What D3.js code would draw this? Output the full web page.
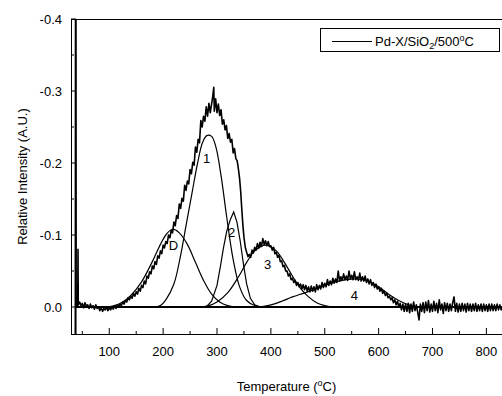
<!DOCTYPE html>
<html><head><meta charset="utf-8">
<script src="https://cdn.jsdelivr.net/npm/d3@7"></script>
<style>body{margin:0;background:#fff}svg{display:block}text{font-family:"Liberation Sans",Arial,sans-serif;fill:#000}</style>
</head><body><svg id="c" width="502" height="396"></svg>
<script>
// TPD readings: [temperature °C, relative intensity]
const tpdData = [[37,0.08],[37.4,-0.45],[37.8,0.08],[38.2,-0.45],[38.6,0.0],[40,-0.004],[41.5,-0.002],[42,-0.080],[42.5,-0.003],
[45,-0.007],[47.5,-0.002],[50,-0.005],[52.5,0.001],[55,-0.006],[57.5,-0.001],[60,-0.003],[62.5,0.002],[65,-0.004],[67.5,0.001],[70,-0.002],[72.5,0.003],[75,-0.003],[77.5,0.002],[80,0.000],[82.5,0.005],[85,0.001],[87.5,0.006],[90,0.002],[92.5,0.004],[95,0.000],[97.5,0.005],[100,0.001],[102.5,0.004],[105,0.000],[107.5,0.003],[110,-0.002],[112.5,0.002],[115,-0.003],[117.5,0.000],[120,-0.004],[122.5,-0.002],[125,-0.007],[127.5,-0.004],[130,-0.009],[132.5,-0.007],[135,-0.013],[137.5,-0.010],[140,-0.015],[142.5,-0.012],[145,-0.019],[147.5,-0.015],[150,-0.021],[152.5,-0.018],[155,-0.026],[157.5,-0.022],[160,-0.030],[162.5,-0.027],[165,-0.036],[167.5,-0.032],[170,-0.043],[172.5,-0.040],[175,-0.049],[177.5,-0.046],[180,-0.057],[182.5,-0.053],[185,-0.063],[187.5,-0.059],[190,-0.071],[192.5,-0.068],[195,-0.078],[197.5,-0.074],[200,-0.086],[202.5,-0.082],[205,-0.091],[207.5,-0.088],[210,-0.100],[212.5,-0.096],[215,-0.106],[217.5,-0.103],[220,-0.118],[222.5,-0.113],[225,-0.127],[227.5,-0.123],[230,-0.143],[232.5,-0.137],[235,-0.151],[237.5,-0.147],[240,-0.169],[242.5,-0.162],[245,-0.175],[247.5,-0.171],[250,-0.191],[252.5,-0.185],[255,-0.201],[257.5,-0.197],[260,-0.222],[262.5,-0.215],[265,-0.233],[267.5,-0.228],[270,-0.259],[272.5,-0.250],[275,-0.265],[277.5,-0.258],[280,-0.278],[282.5,-0.265],[285,-0.283],[287.5,-0.270],[290,-0.282],[292,-0.292],[294,-0.305],[295,-0.272],[297.5,-0.289],[300,-0.270],[302.5,-0.282],[305,-0.266],[307.5,-0.274],[310,-0.254],[312.5,-0.260],[315,-0.246],[317.5,-0.252],[320,-0.234],[322.5,-0.241],[325,-0.229],[327.5,-0.233],[330,-0.214],[332.5,-0.220],[335,-0.206],[337.5,-0.203],[340,-0.190],[342,-0.178],[344,-0.160],[346,-0.136],[348,-0.114],[350,-0.097],[352.5,-0.083],[355,-0.076],[357.5,-0.070],[360,-0.073],[362.5,-0.069],[365,-0.079],[367.5,-0.075],[370,-0.083],[372.5,-0.079],[375,-0.088],[377.5,-0.082],[380,-0.090],[382.5,-0.084],[385,-0.095],[387.5,-0.087],[390,-0.092],[392.5,-0.085],[395,-0.091],[397.5,-0.084],[400,-0.085],[402.5,-0.079],[405,-0.083],[407.5,-0.074],[410,-0.076],[412.5,-0.069],[415,-0.072],[417.5,-0.063],[420,-0.064],[422.5,-0.056],[425,-0.058],[427.5,-0.050],[430,-0.050],[432.5,-0.043],[435,-0.046],[437.5,-0.038],[440,-0.040],[442.5,-0.034],[445,-0.037],[447.5,-0.030],[450,-0.034],[452.5,-0.028],[455,-0.032],[457.5,-0.025],[460,-0.031],[462.5,-0.024],[465,-0.030],[467.5,-0.022],[470,-0.028],[472.5,-0.021],[475,-0.029],[477.5,-0.022],[480,-0.028],[482.5,-0.021],[485,-0.031],[487.5,-0.024],[490,-0.030],[492.5,-0.025],[495,-0.034],[497.5,-0.027],[500,-0.033],[502.5,-0.028],[505,-0.038],[507.5,-0.030],[510,-0.036],[512.5,-0.031],[515,-0.040],[517.5,-0.033],[520,-0.039],[522.5,-0.034],[525,-0.050],[527.5,-0.036],[530,-0.042],[532.5,-0.037],[535,-0.046],[537.5,-0.038],[540,-0.043],[542.5,-0.037],[545,-0.050],[547.5,-0.039],[550,-0.044],[552.5,-0.038],[555,-0.049],[557.5,-0.038],[560,-0.042],[562.5,-0.037],[565,-0.047],[567.5,-0.036],[570,-0.042],[572.5,-0.036],[575,-0.043],[577.5,-0.034],[580,-0.039],[582.5,-0.032],[585,-0.038],[587.5,-0.030],[590,-0.034],[592.5,-0.027],[595,-0.032],[597.5,-0.025],[600,-0.028],[602.5,-0.022],[605,-0.026],[607.5,-0.019],[610,-0.022],[612.5,-0.016],[615,-0.019],[617.5,-0.013],[620,-0.015],[622.5,-0.010],[625,-0.013],[627.5,-0.006],[630,-0.010],[632.5,-0.003],[635,-0.008],[637.5,0.000],[640,-0.005],[642.5,0.004],[645,-0.004],[647.5,0.006],[650,-0.004],[652.5,0.006],[655,-0.005],[657.5,0.008],[660,-0.004],[662.5,0.006],[665,-0.007],[667.5,0.005],[670,-0.003],[672.5,0.007],[675,0.018],[677.5,-0.004],[680,0.006],[682.5,-0.006],[685,0.008],[687.5,-0.007],[690,0.005],[692.5,-0.009],[695,0.007],[697.5,-0.004],[700,0.006],[702.5,-0.008],[705,0.005],[707.5,-0.005],[710,0.008],[712.5,-0.010],[715,0.004],[717.5,-0.004],[720,0.009],[722.5,-0.006],[725,0.005],[727.5,-0.005],[730,0.006],[732.5,-0.004],[735,0.005],[737.5,-0.006],[740,-0.014],[742.5,0.006],[745,-0.005],[747.5,0.007],[750,-0.004],[752.5,0.006],[755,-0.005],[757.5,0.005],[760,-0.004],[762.5,0.007],[765,-0.005],[767.5,0.005],[770,-0.004],[772.5,0.006],[775,-0.004],[777.5,0.005],[780,-0.005],[782.5,0.006],[785,-0.003],[787.5,0.005],[790,-0.004],[792.5,0.006],[795,-0.004],[797.5,0.005],[800,-0.003],[802.5,0.006],[805,-0.004],[807.5,0.005],[810,-0.004],[812.5,0.005],[815,-0.003],[817.5,0.005],[820,-0.004],[822.5,0.004],[825,-0.003],[827.5,0.004],[830,0.000]];

const peakD = [[95,0],[110,-0.002],[125,-0.007],[140,-0.016],[160,-0.035],[180,-0.063],[195,-0.087],[205,-0.100],[217,-0.108],[230,-0.103],[245,-0.087],[260,-0.062],[275,-0.037],[290,-0.018],[305,-0.007],[320,-0.002],[335,0]];
const peak1 = [[185,0],[195,-0.002],[205,-0.010],[220,-0.032],[232,-0.070],[243,-0.115],[254,-0.160],[264,-0.200],[273,-0.228],[281,-0.238],[290,-0.237],[298,-0.222],[308,-0.180],[318,-0.125],[330,-0.066],[342,-0.028],[355,-0.009],[370,-0.002],[385,0]];
const peak2 = [[280,0],[290,-0.008],[300,-0.030],[306,-0.055],[312,-0.082],[318,-0.105],[325,-0.122],[331,-0.132],[337,-0.118],[343,-0.092],[349,-0.060],[355,-0.032],[362,-0.012],[370,-0.003],[380,0]];
const peak3 = [[270,0],[285,-0.002],[300,-0.007],[320,-0.020],[340,-0.042],[355,-0.062],[370,-0.078],[390,-0.086],[410,-0.078],[425,-0.062],[440,-0.043],[455,-0.026],[470,-0.014],[485,-0.006],[500,-0.002],[515,0]];
const peak4 = [[380,0],[400,-0.003],[420,-0.008],[440,-0.014],[460,-0.019],[480,-0.024],[500,-0.030],[520,-0.035],[540,-0.038],[560,-0.039],[580,-0.036],[600,-0.028],[620,-0.017],[640,-0.008],[660,-0.002],[680,0]];
const baseline = [[37,0],[830,0]];
const peakLabels = [["D",219,-0.085],["1",280.5,-0.207],["2",327,-0.103],["3",394,-0.059],["4",555,-0.016]];
const xMajor = [100,200,300,400,500,600,700,800];
const xMinor = [50,150,250,350,450,550,650,750];
const yMajor = [0,-0.1,-0.2,-0.3,-0.4];
const yMinor = [-0.05,-0.15,-0.25,-0.35];

const svg = d3.select("#c");
const L=71,R=502,T=19,B=334;
const x = d3.scaleLinear().domain([29,829]).range([L,R]);
const y = d3.scaleLinear().domain([0.0375,-0.4]).range([B,T]);

svg.append("rect").attr("width",502).attr("height",396).attr("fill","#fff");
svg.append("defs").append("clipPath").attr("id","clip").append("rect")
  .attr("x",L).attr("y",T).attr("width",R-L).attr("height",B-T);

const g = svg.append("g").attr("clip-path","url(#clip)");
const lineP = d3.line().x(d=>x(d[0])).y(d=>y(d[1])).curve(d3.curveCatmullRom);
const lineL = d3.line().x(d=>x(d[0])).y(d=>y(d[1]));

g.append("path").attr("d",lineL(baseline)).attr("stroke","#000").attr("stroke-width",2).attr("fill","none");
[peakD,peak1,peak3,peak4].forEach(p=>{
  g.append("path").attr("d",lineP(p)).attr("stroke","#000").attr("stroke-width",1.2).attr("fill","none");
});
g.append("path").attr("d",lineL(peak2)).attr("stroke","#000").attr("stroke-width",1.2).attr("fill","none");

g.append("path").attr("d",lineL(tpdData)).attr("stroke","#000").attr("stroke-width",1.6)
  .attr("stroke-linejoin","round").attr("fill","none");

svg.append("line").attr("x1",L).attr("x2",R).attr("y1",T+0.5).attr("y2",T+0.5).attr("stroke","#000").attr("stroke-width",1.2);
svg.append("line").attr("x1",L).attr("x2",R).attr("y1",B+0.5).attr("y2",B+0.5).attr("stroke","#000").attr("stroke-width",1.2);
svg.append("line").attr("x1",L+0.5).attr("x2",L+0.5).attr("y1",T).attr("y2",B+1).attr("stroke","#000").attr("stroke-width",1);

const xa = svg.append("g");
xMajor.forEach(v=>{
  xa.append("line").attr("x1",x(v)).attr("x2",x(v)).attr("y1",B).attr("y2",B-6).attr("stroke","#000");
  xa.append("text").attr("x",x(v)).attr("y",B+22).attr("text-anchor","middle").attr("font-size",13).text(v);
});
xMinor.forEach(v=>{
  xa.append("line").attr("x1",x(v)).attr("x2",x(v)).attr("y1",B).attr("y2",B-3).attr("stroke","#000");
});
yMajor.forEach(v=>{
  xa.append("line").attr("x1",L).attr("x2",L+5).attr("y1",y(v)).attr("y2",y(v)).attr("stroke","#000");
  xa.append("text").attr("x",L-9).attr("y",y(v)).attr("dy","0.35em").attr("text-anchor","end").attr("font-size",13).text(v.toFixed(1));
});
yMinor.forEach(v=>{
  xa.append("line").attr("x1",L).attr("x2",L+3).attr("y1",y(v)).attr("y2",y(v)).attr("stroke","#000");
});

const xt = svg.append("text").attr("x",(L+R)/2).attr("y",391).attr("text-anchor","middle").attr("font-size",13);
xt.append("tspan").text("Temperature (");
xt.append("tspan").attr("font-size",9).attr("dy",-5).text("o");
xt.append("tspan").attr("dy",5).text("C)");
svg.append("text").attr("transform",`translate(27,${(T+B)/2}) rotate(-90)`).attr("text-anchor","middle").attr("font-size",13).text("Relative Intensity (A.U.)");

peakLabels.forEach(d=>{
  svg.append("text").attr("x",x(d[1])).attr("y",y(d[2])).attr("dy","0.35em").attr("text-anchor","middle").attr("font-size",13).text(d[0]);
});

svg.append("rect").attr("x",320.5).attr("y",28.5).attr("width",179).attr("height",23).attr("fill","#fff").attr("stroke","#000");
svg.append("line").attr("x1",332).attr("x2",372).attr("y1",41.5).attr("y2",41.5).attr("stroke","#000").attr("stroke-width",1);
const lt = svg.append("text").attr("x",375).attr("y",46).attr("font-size",13);
lt.append("tspan").text("Pd-X/SiO");
lt.append("tspan").attr("font-size",9).attr("dy",3).text("2");
lt.append("tspan").attr("dy",-3).text("/500");
lt.append("tspan").attr("font-size",9).attr("dy",-5).text("o");
lt.append("tspan").attr("dy",5).text("C");
</script></body></html>
